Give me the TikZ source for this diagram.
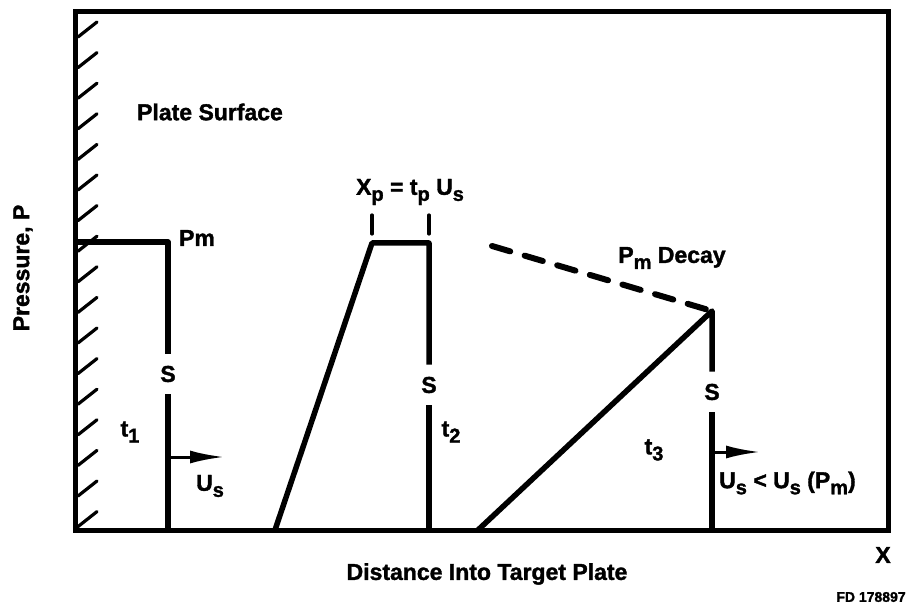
\documentclass[tikz,border=0pt]{standalone}
\usepackage{fontspec}
\setmainfont{Liberation Sans}[BoldFeatures={FakeBold=1.5}]
\usetikzlibrary{arrows.meta, positioning, calc}
\newcommand{\lowidx}[1]{\raisebox{-0.5ex}{\fontsize{20}{20}\selectfont #1}}
\tikzset{
  lbl/.style={font=\fontsize{23}{27}\selectfont\bfseries, inner sep=1pt},
  shocklbl/.style={font=\fontsize{23}{27}\selectfont\bfseries, inner xsep=1pt, inner ysep=12pt},
  pulse/.style={line width=5.5pt, line join=round},
  hatch/.style={line width=3.2pt, line cap=round},
  velarrow/.style={line width=3pt, -{Latex[length=34pt, width=13pt]}}
}

\begin{document}
\begin{tikzpicture}[x=1pt, y=-1pt]
    \useasboundingbox (0,0) rectangle (913,609);
    \draw[line width=5pt, line join=miter] (75,12) rectangle (888,530);
    \foreach \k in {0,...,16}
      \draw[hatch] (78,{37+30.6*\k}) -- (97,{22+30.6*\k});
    % first pulse
    \coordinate (w1) at (75,242);
    \coordinate (c1) at (168,242);
    \coordinate (b1) at (168,530);
    \node[shocklbl] (s1) at (168,374) {S};
    \draw[pulse] (w1) -- (c1) -- (s1.north);
    \draw[pulse] (s1.south) -- (b1);
    \node[lbl] (pm1) at (197,238) {Pm};
    \node[lbl] (t1) at (130,432) {t\lowidx{1}};
    \coordinate (a1) at (170,457);
    \coordinate (h1) at (224,457);
    \draw[velarrow] (a1) -- (h1);
    \node[lbl] (u1) at (210,486) {U\lowidx{s}};
    % second pulse
    \coordinate (f2) at (275,530);
    \coordinate (l2) at (372,243);
    \coordinate (c2) at (429,243);
    \coordinate (b2) at (429,530);
    \node[shocklbl] (s2) at (429,385) {S};
    \draw[pulse] (f2) -- (l2) -- (c2) -- (s2.north);
    \draw[pulse] (s2.south) -- (b2);
    \node[lbl] (xp) at (410,192) {X\lowidx{p} = t\lowidx{p} U\lowidx{s}};
    \draw[hatch] ($(l2)+(0,-28)$) -- ($(l2)+(0,-9)$);
    \draw[hatch] ($(c2)+(0,-28)$) -- ($(c2)+(0,-9)$);
    \node[lbl] (t2) at (451,432) {t\lowidx{2}};
    % third pulse
    \coordinate (f3) at (478,530);
    \coordinate (c3) at (712,311);
    \coordinate (b3) at (712,530);
    \coordinate (d3) at (492,246);
    \node[shocklbl] (s3) at (712,392) {S};
    \draw[pulse] (f3) -- (c3) -- (s3.north);
    \draw[pulse] (s3.south) -- (b3);
    \draw[line width=6pt, line cap=round, dash pattern=on 19pt off 15pt] (d3) -- (c3);
    \node[lbl] (decay) at (672,258) {P\lowidx{m} Decay};
    \node[lbl] (t3) at (654,450) {t\lowidx{3}};
    \coordinate (a3) at (714,452);
    \coordinate (h3) at (760,452);
    \draw[velarrow] (a3) -- (h3);
    \node[lbl, anchor=west] (u3) at (718,483) {U\lowidx{s} < U\lowidx{s} (P\lowidx{m})};
    % axes
    \node[lbl, rotate=90] (ylab) at (23,268) {Pressure, P};
    \node[lbl] (xlab) at (487,574) {Distance Into Target Plate};
    \node[lbl] (xax) at (883,555) {X};
    \node[font=\fontsize{14}{16}\selectfont\bfseries, inner sep=1pt] (fd) at (871,597) {FD 178897};
    \node[lbl] (plate) at (210,112) {Plate Surface};
  \end{tikzpicture}
\end{document}
